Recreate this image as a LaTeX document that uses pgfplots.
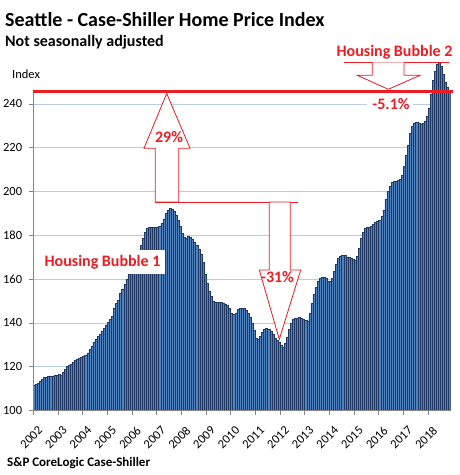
\documentclass[border=0pt]{standalone}
\usepackage{fontspec}
\setmainfont{Carlito}
\usepackage{pgfplots}
\usepackage{pgfplotstable}
\pgfplotsset{compat=1.18}
\definecolor{barfill}{RGB}{79,129,189}
\definecolor{baredge}{RGB}{31,56,100}
\definecolor{gridblue}{RGB}{185,205,229}
\definecolor{axgray}{RGB}{134,134,134}
\definecolor{annred}{RGB}{237,28,36}
\pgfplotstableread{
m v
0 111.7
1 112.0
2 112.5
3 113.2
4 114.2
5 115.0
6 115.4
7 115.6
8 115.8
9 115.8
10 115.9
11 116.0
12 116.4
13 116.0
14 117.5
15 118.8
16 120.0
17 120.8
18 121.3
19 122.2
20 122.8
21 123.4
22 123.8
23 124.2
24 124.6
25 125.2
26 126.3
27 127.8
28 129.5
29 131.2
30 132.7
31 133.8
32 135.0
33 136.0
34 137.5
35 139.0
36 140.3
37 141.5
38 143.2
39 146.5
40 149.0
41 150.5
42 153.5
43 155.5
44 157.5
45 160.0
46 162.0
47 164.0
48 166.0
49 168.0
50 170.0
51 172.5
52 175.5
53 178.5
54 181.5
55 183.2
56 183.6
57 183.6
58 183.6
59 183.6
60 183.6
61 184.2
62 185.6
63 187.5
64 190.0
65 191.5
66 192.2
67 191.8
68 190.8
69 189.0
70 186.8
71 184.0
72 181.0
73 179.0
74 178.5
75 179.5
76 179.0
77 178.0
78 177.0
79 175.5
80 173.5
81 171.5
82 167.5
83 162.0
84 158.0
85 154.5
86 152.0
87 149.8
88 149.3
89 149.5
90 149.5
91 149.4
92 149.0
93 148.7
94 148.0
95 146.5
96 144.5
97 143.8
98 144.6
99 146.3
100 146.8
101 146.8
102 146.7
103 145.7
104 144.5
105 142.5
106 140.0
107 136.5
108 133.2
109 132.7
110 134.0
111 135.8
112 136.9
113 137.4
114 137.2
115 136.1
116 134.6
117 133.1
118 132.0
119 131.0
120 130.0
121 128.9
122 130.6
123 133.6
124 137.0
125 140.0
126 141.6
127 142.0
128 142.1
129 142.4
130 142.1
131 141.6
132 141.0
133 140.6
134 144.5
135 148.8
136 153.0
137 156.2
138 159.2
139 160.5
140 160.9
141 160.7
142 160.2
143 158.8
144 158.8
145 160.5
146 163.5
147 167.0
148 169.3
149 170.6
150 171.0
151 170.7
152 170.2
153 169.9
154 169.7
155 169.2
156 168.6
157 170.5
158 174.2
159 178.5
160 181.5
161 183.0
162 183.5
163 183.9
164 184.3
165 185.0
166 186.0
167 186.4
168 186.8
169 188.5
170 191.5
171 196.5
172 200.0
173 202.5
174 204.0
175 204.5
176 204.7
177 205.0
178 205.8
179 207.5
180 211.5
181 216.5
182 221.0
183 226.5
184 229.8
185 231.3
186 231.5
187 231.0
188 230.9
189 231.2
190 232.3
191 234.5
192 238.2
193 244.5
194 250.8
195 255.0
196 258.2
197 258.9
198 257.3
199 253.5
200 250.0
201 247.6
202 245.7
}\seattle
\begin{document}
\begin{tikzpicture}[x=1pt,y=1pt]
\fill[white] (0,0) rectangle (459,475);
\path[use as bounding box] (0,0) rectangle (459,475);
\begin{axis}[
  at={(33.3pt,64.5pt)}, anchor=south west,
  scale only axis, width=417.4pt, height=350.4pt,
  xmin=-0.5, xmax=202.5, ymin=100, ymax=260,
  axis line style={draw=none},
  ymajorgrids, grid style={gridblue, line width=0.8pt},
  ytick={100,120,...,240},
  xtick={-0.5,11.5,...,191.5},
  xticklabels={2002,2003,2004,2005,2006,2007,2008,2009,2010,2011,2012,2013,2014,2015,2016,2017,2018},
  tick align=outside, tick pos=left, major tick length=4pt,
  tick style={axgray, line width=0.75pt},
  /pgf/number format/assume math mode=true,
  /pgf/number format/1000 sep={},
  yticklabel style={font=\fontsize{12.5}{14}\selectfont, anchor=east, inner sep=0pt, xshift=-7pt},
  xticklabel style={font=\fontsize{12.5}{14}\selectfont, xshift=4pt, yshift=-11pt, rotate=45, anchor=north east, inner sep=0pt},
]
\addplot[ybar, bar width=1, bar shift=0pt, fill=barfill, draw=baredge, line width=0.5pt] table[x=m, y=v] {\seattle};
\end{axis}
% axis lines
\draw[axgray, line width=0.75pt] (33.3,64.5) -- (450.7,64.5);
\draw[axgray, line width=0.75pt] (33.3,64.5) -- (33.3,383.3);
% Housing Bubble 1 label
\fill[white] (42,201) rectangle (165,225);
\node[anchor=base, text=annred, font=\bfseries\fontsize{16}{18}\selectfont, inner sep=0pt] at (102.5,208) {Housing Bubble 1};
% up arrow 29%
\draw[annred, line width=0.8pt, fill=white] (155.3,273) -- (155.3,326.7) -- (144,326.7) -- (166.7,381.5) -- (190,326.7) -- (178.7,326.7) -- (178.7,273) -- cycle;
\draw[annred, line width=0.8pt] (155.3,273) -- (297.7,273);
% down arrow -31%
\draw[annred, line width=0.8pt, fill=white] (269.3,273) -- (269.3,205) -- (259.3,205) -- (279.3,135.7) -- (300.7,205) -- (290.3,205) -- (290.3,273) -- cycle;
% bubble 2 bracket
\draw[annred, line width=0.8pt] (344.3,412.7) -- (449,412.7);
\draw[annred, line width=0.8pt, fill=white] (372.3,412.7) -- (372.3,399.7) -- (357.3,399.7) -- (388.3,385.7) -- (420,399.7) -- (404,399.7) -- (404,412.7);
% red level line
\draw[annred, line width=3pt] (33.3,383.3) -- (453,383.3);
% texts
\node[anchor=base, text=annred, font=\bfseries\fontsize{16}{18}\selectfont, inner sep=0pt] at (169,332) {29\%};
\node[anchor=base, text=annred, font=\bfseries\fontsize{16}{18}\selectfont, inner sep=0pt] at (277.5,192.5) {-31\%};
\fill[white] (367,364) rectangle (413,377);
\node[anchor=base, text=annred, font=\bfseries\fontsize{16}{18}\selectfont, inner sep=0pt] at (391,365.5) {-5.1\%};
\node[anchor=base, text=annred, font=\bfseries\fontsize{16}{18}\selectfont, inner sep=0pt] at (394.5,418.3) {Housing Bubble 2};
\node[anchor=base west, font=\bfseries\fontsize{20}{24}\selectfont, inner sep=0pt] at (5,448.3) {Seattle - Case-Shiller Home Price Index};
\node[anchor=base west, font=\bfseries\fontsize{16}{19}\selectfont, inner sep=0pt] at (5,428.3) {Not seasonally adjusted};
\node[anchor=base west, font=\fontsize{12.5}{14}\selectfont, inner sep=0pt] at (12,396.5) {Index};
\node[anchor=base west, font=\bfseries\fontsize{13}{15}\selectfont, inner sep=0pt] at (7,9) {S\&P CoreLogic Case-Shiller};
\end{tikzpicture}
\end{document}
